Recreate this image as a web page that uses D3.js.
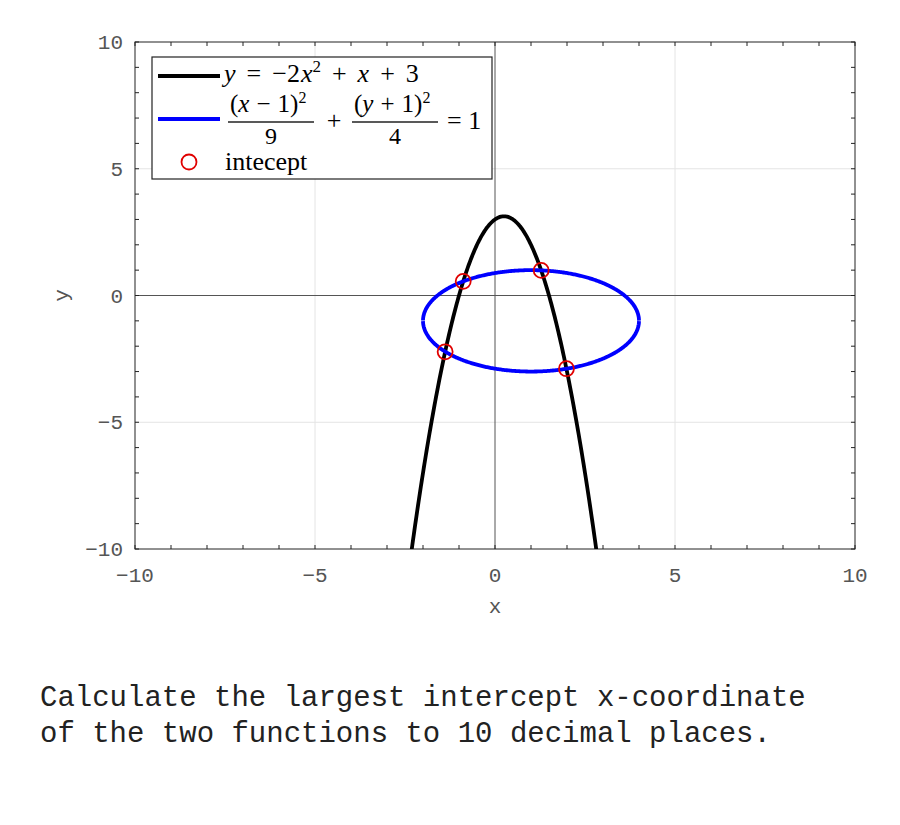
<!DOCTYPE html>
<html>
<head>
<meta charset="utf-8">
<script src="https://cdn.jsdelivr.net/npm/d3@7"></script>
<style>
  body { margin: 0; background: #fff; }
  svg text { font-family: 'Liberation Mono', 'Cousine', 'Courier New', 'FreeMono', 'Nimbus Mono PS', Courier, monospace; }
  .math { font-family: 'Liberation Serif', serif; font-style: italic; }
  .num { font-family: 'Liberation Serif', serif; font-style: normal; }
</style>
</head>
<body>
<div id="chart"></div>
<script>
// ticks
let xTicks = [-10, -5, 0, 5, 10]
let yTicks = [-10, -5, 0, 5, 10]
let minorTicks = d3.range(-10, 11)

// curves, straight from the legend equations
let parabolaCoef = [-2, 1, 3] // a x^2 + b x + c
let ellipseCenter = [1, -1]
let ellipseRadii = [3, 2]

// intercepts
let interceptX = [-1.385, -0.883, 1.283, 1.984]
let interceptY = [-2.22, 0.558, 0.991, -2.888]

let margin = { top: 42, left: 135, right: 45, bottom: 276 }
let width = 900 - margin.left - margin.right
let height = 825 - margin.top - margin.bottom

let root = d3
  .select('#chart')
  .append('svg')
  .attr('width', 900)
  .attr('height', 825)

let svg = root
  .append('g')
  .attr('transform', 'translate(' + margin.left + ',' + margin.top + ')')

let xPositionScale = d3.scaleLinear().domain([-10, 10]).range([0, width])
let yPositionScale = d3.scaleLinear().domain([-10, 10]).range([height, 0])

svg.append('defs')
  .append('clipPath')
  .attr('id', 'plot-clip')
  .append('rect')
  .attr('width', width)
  .attr('height', height)

// grid
svg.selectAll('.grid-x')
  .data(xTicks.filter(d => d !== 0 && Math.abs(d) !== 10))
  .enter()
  .append('line')
  .attr('x1', d => xPositionScale(d))
  .attr('x2', d => xPositionScale(d))
  .attr('y1', 0)
  .attr('y2', height)
  .attr('stroke', '#e4e4e4')
svg.selectAll('.grid-y')
  .data(yTicks.filter(d => d !== 0 && Math.abs(d) !== 10))
  .enter()
  .append('line')
  .attr('y1', d => yPositionScale(d))
  .attr('y2', d => yPositionScale(d))
  .attr('x1', 0)
  .attr('x2', width)
  .attr('stroke', '#e4e4e4')

// zero axes
svg.append('line')
  .attr('x1', xPositionScale(0)).attr('x2', xPositionScale(0))
  .attr('y1', 0).attr('y2', height)
  .attr('stroke', '#555')
svg.append('line')
  .attr('y1', yPositionScale(0)).attr('y2', yPositionScale(0))
  .attr('x1', 0).attr('x2', width)
  .attr('stroke', '#555')

// minor ticks, inward on all four sides
let tickLen = 4
minorTicks.forEach(t => {
  let x = xPositionScale(t)
  let y = yPositionScale(t)
  svg.append('line').attr('x1', x).attr('x2', x).attr('y1', height).attr('y2', height - tickLen).attr('stroke', '#222')
  svg.append('line').attr('x1', x).attr('x2', x).attr('y1', 0).attr('y2', tickLen).attr('stroke', '#222')
  svg.append('line').attr('y1', y).attr('y2', y).attr('x1', 0).attr('x2', tickLen).attr('stroke', '#222')
  svg.append('line').attr('y1', y).attr('y2', y).attr('x1', width).attr('x2', width - tickLen).attr('stroke', '#222')
})

// frame
svg.append('rect')
  .attr('width', width)
  .attr('height', height)
  .attr('fill', 'none')
  .attr('stroke', '#222')

// tick labels
let fmt = d => d < 0 ? '\u2212' + Math.abs(d) : d
svg.selectAll('.x-label')
  .data(xTicks)
  .enter()
  .append('text')
  .attr('x', d => xPositionScale(d))
  .attr('y', height + 33)
  .attr('text-anchor', 'middle')
  .attr('font-size', 21)
  .attr('fill', '#555')
  .text(fmt)
svg.selectAll('.y-label')
  .data(yTicks)
  .enter()
  .append('text')
  .attr('x', -12)
  .attr('y', d => yPositionScale(d) + 7)
  .attr('text-anchor', 'end')
  .attr('font-size', 21)
  .attr('fill', '#555')
  .text(fmt)

svg.append('text')
  .attr('x', width / 2)
  .attr('y', height + 64)
  .attr('text-anchor', 'middle')
  .attr('font-size', 21)
  .attr('fill', '#555')
  .text('x')
svg.append('text')
  .attr('transform', 'translate(-67,' + height / 2 + ') rotate(-90)')
  .attr('text-anchor', 'middle')
  .attr('font-size', 21)
  .attr('fill', '#555')
  .text('y')

// curves
let plot = svg.append('g').attr('clip-path', 'url(#plot-clip)')

let line = d3.line()
  .x(d => xPositionScale(d[0]))
  .y(d => yPositionScale(d[1]))

let parabola = d3.range(-3, 3.501, 0.02).map(x => [x, parabolaCoef[0] * x * x + parabolaCoef[1] * x + parabolaCoef[2]])
plot.append('path')
  .attr('d', line(parabola))
  .attr('fill', 'none')
  .attr('stroke', 'black')
  .attr('stroke-width', 3.8)

let halves = [[0.005, Math.PI - 0.005], [Math.PI + 0.005, 2 * Math.PI - 0.005]]
halves.forEach(h => {
  let pts = d3.range(h[0], h[1], 0.01).concat([h[1]]).map(t => [
    ellipseCenter[0] + ellipseRadii[0] * Math.cos(t),
    ellipseCenter[1] + ellipseRadii[1] * Math.sin(t)
  ])
  plot.append('path')
    .attr('d', line(pts))
    .attr('fill', 'none')
    .attr('stroke', '#0000ff')
    .attr('stroke-width', 3.8)
})

plot.selectAll('.intercept')
  .data(interceptX)
  .enter()
  .append('circle')
  .attr('cx', d => xPositionScale(d))
  .attr('cy', (d, i) => yPositionScale(interceptY[i]))
  .attr('r', 7.5)
  .attr('fill', 'none')
  .attr('stroke', '#e00000')
  .attr('stroke-width', 1.8)

// legend
let legend = root.append('g').attr('transform', 'translate(152,57)')
legend.append('rect')
  .attr('width', 340)
  .attr('height', 122)
  .attr('fill', 'white')
  .attr('stroke', '#222')
  .attr('stroke-width', 1.2)

legend.append('line').attr('x1', 6).attr('x2', 68).attr('y1', 19).attr('y2', 19).attr('stroke', 'black').attr('stroke-width', 3.8)
legend.append('line').attr('x1', 6).attr('x2', 68).attr('y1', 62).attr('y2', 62).attr('stroke', '#0000ff').attr('stroke-width', 3.8)
legend.append('circle').attr('cx', 37).attr('cy', 105).attr('r', 7.5).attr('fill', 'none').attr('stroke', '#e00000').attr('stroke-width', 1.8)

let fs = 26
let gap = 11
let eq1 = legend.append('text').attr('x', 72).attr('y', 25).attr('font-size', fs).attr('class', 'math')
eq1.append('tspan').text('y')
eq1.append('tspan').attr('class', 'num').attr('dx', gap).text('=')
eq1.append('tspan').attr('class', 'num').attr('dx', gap).text('\u22122')
eq1.append('tspan').attr('dx', 1).text('x')
eq1.append('tspan').attr('class', 'num').attr('dy', -10).attr('font-size', 17).text('2')
eq1.append('tspan').attr('class', 'num').attr('dy', 10).attr('dx', gap).text('+')
eq1.append('tspan').attr('dx', gap).text('x')
eq1.append('tspan').attr('class', 'num').attr('dx', gap).text('+')
eq1.append('tspan').attr('class', 'num').attr('dx', gap).text('3')

function fraction(x, sym, sign, den) {
  let num = legend.append('text').attr('x', x + 2).attr('y', 55).attr('font-size', 25).attr('class', 'num')
  num.append('tspan').text('(')
  num.append('tspan').attr('class', 'math').text(sym)
  num.append('tspan').attr('dx', 7).text(sign)
  num.append('tspan').attr('dx', 7).text('1)')
  num.append('tspan').attr('dy', -9).attr('font-size', 16).text('2')
  legend.append('line').attr('x1', x).attr('x2', x + 86).attr('y1', 65).attr('y2', 65).attr('stroke', '#222').attr('stroke-width', 1.3)
  legend.append('text').attr('x', x + 43).attr('y', 87).attr('font-size', 24).attr('class', 'num').attr('text-anchor', 'middle').text(den)
}
fraction(76, 'x', '\u2212', '9')
legend.append('text').attr('x', 182).attr('y', 72).attr('font-size', fs).attr('class', 'num').attr('text-anchor', 'middle').text('+')
fraction(200, 'y', '+', '4')
legend.append('text').attr('x', 295).attr('y', 72).attr('font-size', fs).attr('class', 'num').text('= 1')

legend.append('text').attr('x', 73).attr('y', 113).attr('font-size', fs).attr('class', 'num').text('intecept')

// question text
let question = root.append('text').attr('font-size', 29).attr('fill', '#222')
question.append('tspan').attr('x', 40).attr('y', 706).text('Calculate the largest intercept x-coordinate')
question.append('tspan').attr('x', 40).attr('y', 742).text('of the two functions to 10 decimal places.')
</script>
</body>
</html>
